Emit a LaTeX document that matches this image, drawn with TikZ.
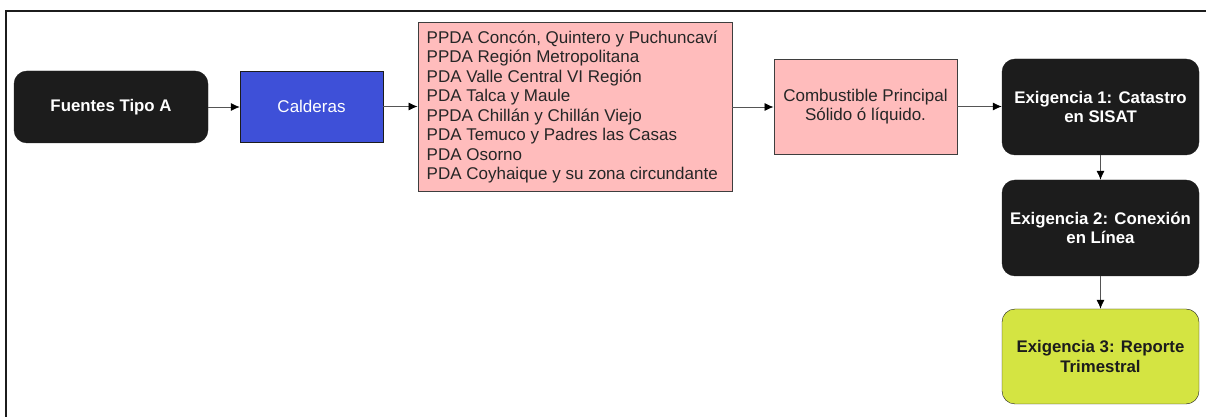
\documentclass[tikz,border=0pt]{standalone}
\usepackage{fontspec}
\setmainfont{Liberation Sans}
\usetikzlibrary{arrows.meta}
\definecolor{darkbox}{HTML}{1C1C1C}
\definecolor{bluebox}{HTML}{3E50D8}
\definecolor{pinkbox}{HTML}{FFBCBC}
\definecolor{greenbox}{HTML}{D4E442}
\definecolor{edgegray}{HTML}{555555}
\tikzset{
  darknode/.style={draw=darkbox, fill=darkbox, rounded corners=13pt, text=white, font=\fontsize{16.8}{19.5}\selectfont\bfseries, align=center, inner sep=0pt},
  bluenode/.style={draw=darkbox, fill=bluebox, text=white, font=\fontsize{17}{19.5}\selectfont, align=center, inner sep=0pt},
  pinknode/.style={draw=darkbox!85, fill=pinkbox, text=black!85, font=\fontsize{17}{19.5}\selectfont, inner sep=0pt, line width=0.9pt},
  greennode/.style={draw=darkbox, fill=greenbox, rounded corners=13pt, text=darkbox, font=\fontsize{16.8}{19.5}\selectfont\bfseries, align=center, inner sep=0pt},
  flow/.style={draw=edgegray, line width=0.8pt, -{Latex[length=9pt,width=8pt,black]}},
  frameline/.style={draw=darkbox, line width=1.8pt}
}
\begin{document}
\begin{tikzpicture}[x=1pt,y=1pt]
\useasboundingbox (0,0) rectangle (1206,417);
\draw[frameline] (6,0) -- (6,406) -- (1206,406);
\node[darknode, minimum width=194pt, minimum height=72pt] (fa) at (111,310) {Fuentes Tipo A};
\node[bluenode, minimum width=143pt, minimum height=71pt] (cal) at (311.5,310.5) {Calderas};
\node[pinknode, minimum width=314pt, minimum height=169pt] (list) at (575,310) {};
\node[anchor=north west, inner sep=0pt, font=\fontsize{17}{19.5}\selectfont, text=black!85, align=left] (listtxt) at (426.5,386.5) {PPDA Concón, Quintero y Puchuncaví\\PPDA Región Metropolitana\\PDA Valle Central VI Región\\PDA Talca y Maule\\PPDA Chillán y Chillán Viejo\\PDA Temuco y Padres las Casas\\PDA Osorno\\PDA Coyhaique y su zona circundante};
\node[pinknode, align=center, minimum width=183pt, minimum height=95pt] (comb) at (865.5,310.5) {Combustible Principal\\Sólido ó líquido.};
\node[darknode, minimum width=197pt, minimum height=96pt] (ex1) at (1100.5,310) {Exigencia 1: Catastro\\en SISAT};
\node[darknode, minimum width=197pt, minimum height=96pt] (ex2) at (1100.5,189) {Exigencia 2: Conexión\\en Línea};
\node[greennode, minimum width=197pt, minimum height=95pt] (ex3) at (1100.5,60.5) {Exigencia 3: Reporte\\Trimestral};
\draw[flow] (fa.east) -- (fa.east -| cal.west);
\draw[flow] (cal.east) -- (cal.east -| list.west);
\draw[flow] (list.east) -- (list.east -| comb.west);
\draw[flow] (comb.east) -- (comb.east -| ex1.west);
\draw[flow] (ex1.south) -- (ex2.north);
\draw[flow] (ex2.south) -- (ex3.north);
\end{tikzpicture}
\end{document}
